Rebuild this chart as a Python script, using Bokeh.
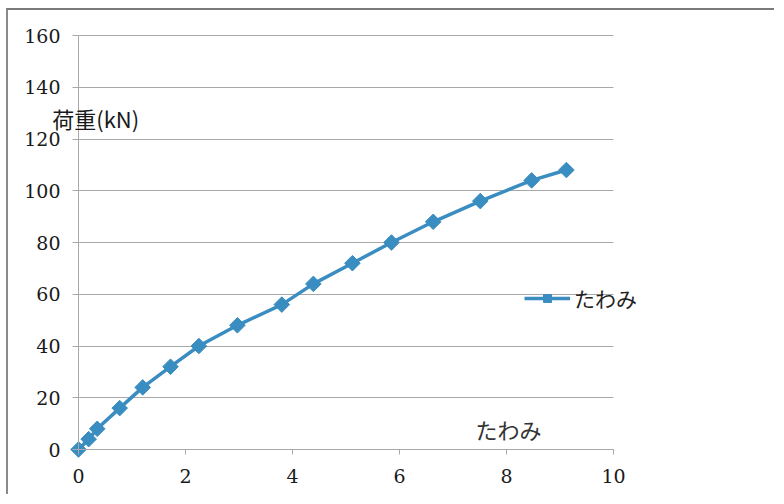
from bokeh.plotting import figure
from bokeh.models import Label, FixedTicker, Legend, LegendItem, Range1d, Grid
from bokeh.embed import file_html
from bokeh.resources import INLINE

# data: deflection (たわみ) vs load (荷重, kN)
deflection = [0.0, 0.19, 0.35, 0.77, 1.2, 1.72, 2.25, 2.97, 3.8, 4.39, 5.12, 5.85, 6.63, 7.51, 8.47, 9.12]
load = [0, 4, 8, 16, 24, 32, 40, 48, 56, 64, 72, 80, 88, 96, 104, 108]
x_ticks = [0, 2, 4, 6, 8, 10]
y_ticks = [0, 20, 40, 60, 80, 100, 120, 140, 160]
series_name = "たわみ"
x_title = "たわみ"
y_title = "荷重(kN)"

BLUE = "#3a8dc0"
GRID = "#a8a8a8"
TICK_FONT = "DejaVu Serif"
JP_FONT = "Noto Sans CJK JP"

# layout (pixels on the canvas): the axes sit inside a frame that fills the canvas
W, H = 768, 486
AX_X0, AX_W = 70, 535           # canvas x of x=0, width of the 0..10 span
AX_Y0, AX_H = 439, 414          # canvas y of y=0, height of the 0..160 span
xmin, xmax = x_ticks[0], x_ticks[-1]
ymin, ymax = y_ticks[0], y_ticks[-1]
ppx = AX_W / (xmax - xmin)
ppy = AX_H / (ymax - ymin)
x_lo, x_hi = xmin - AX_X0 / ppx, xmin + (W - AX_X0) / ppx
y_lo, y_hi = ymin - (H - AX_Y0) / ppy, ymin + AX_Y0 / ppy

p = figure(width=W, height=H, output_backend="svg", toolbar_location=None,
           x_range=Range1d(x_lo, x_hi), y_range=Range1d(y_lo, y_hi),
           min_border_left=0, min_border_right=0, min_border_top=0, min_border_bottom=0)
p.styles = {"margin-top": "8px", "margin-left": "6px",
            "border-top": "2px solid #7a7a7a", "border-left": "2px solid #8a8a8a"}
p.outline_line_color = None
p.background_fill_color = "white"

p.xgrid.visible = False
ygrid = p.ygrid[0]
if "cross_bounds" in Grid.properties():
    ygrid.grid_line_color = GRID
    ygrid.grid_line_width = 1
    ygrid.ticker = FixedTicker(ticks=y_ticks)
    ygrid.bounds = (ymin, ymax)
    ygrid.cross_bounds = (xmin, xmax)
else:
    ygrid.visible = False
    p.segment(x0=[xmin] * len(y_ticks), x1=[xmax] * len(y_ticks), y0=y_ticks, y1=y_ticks,
              line_color=GRID, line_width=1)

xa, ya = p.xaxis[0], p.yaxis[0]
for ax in (xa, ya):
    ax.axis_line_color = GRID
    ax.axis_line_width = 1
    ax.major_tick_line_color = GRID
    ax.minor_tick_line_color = None
    ax.major_tick_in = 0
    ax.major_label_text_font = TICK_FONT
    ax.major_label_text_font_size = "19px"
    ax.major_label_text_color = "#1a1a1a"

xa.ticker = FixedTicker(ticks=x_ticks)
xa.bounds = (xmin, xmax)
xa.fixed_location = ymin
xa.major_tick_out = 5
xa.major_label_standoff = 14
ya.ticker = FixedTicker(ticks=y_ticks)
ya.bounds = (ymin, ymax)
ya.fixed_location = xmin
ya.major_tick_out = 6
ya.major_label_standoff = 12

r_line = p.line(deflection, load, line_color=BLUE, line_width=3.5)
r_pts = p.scatter(deflection, load, marker="square", size=11, angle=0.785398,
                  fill_color=BLUE, line_color=BLUE)

legend = Legend(items=[LegendItem(label=series_name, renderers=[r_line, r_pts])],
                location=(AX_X0 + 446, H - AX_Y0 + 136), border_line_color=None,
                background_fill_alpha=0,
                label_text_font=JP_FONT, label_text_font_size="21px", label_text_color="#222222",
                glyph_width=46, glyph_height=20, padding=0, spacing=0, margin=0,
                label_standoff=4)
p.add_layout(legend, "center")

p.add_layout(Label(x=-0.49, y=128, text=y_title, text_font=JP_FONT, text_font_size="22px",
                   text_color="#1a1a1a", text_baseline="middle", text_align="left"))
p.add_layout(Label(x=7.42, y=8, text=x_title, text_font=JP_FONT, text_font_size="22px",
                   text_color="#333333", text_baseline="middle", text_align="left"))

open("out.html", "w").write(file_html(p, INLINE))
